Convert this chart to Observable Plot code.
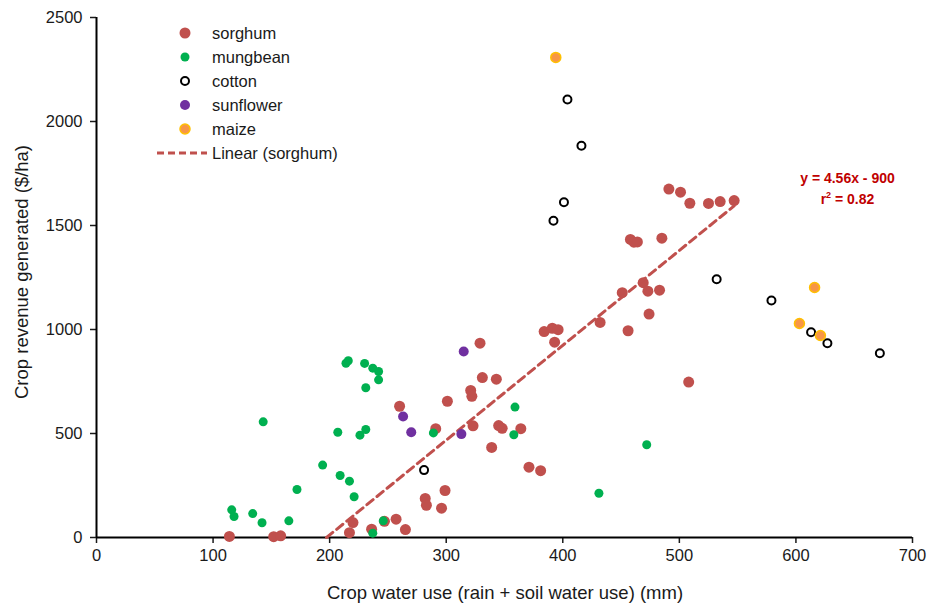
<!DOCTYPE html>
<html>
<head>
<meta charset="utf-8">
<script src="https://cdn.jsdelivr.net/npm/d3@7"></script>
<script src="https://cdn.jsdelivr.net/npm/@observablehq/plot@0.6"></script>
<style>
  html, body { margin: 0; padding: 0; background: #fff; }
  #wrap { position: relative; width: 930px; height: 608px; font-family: "Liberation Sans", Arial, sans-serif; color: #1a1a1a; }
  #legend { position: absolute; left: 150px; top: 21px; font-size: 16.5px; }
  #legend .row { position: relative; height: 24px; line-height: 24px; }
  #legend .row svg { position: absolute; left: 0; top: 0; }
  #legend .row span { position: absolute; left: 62px; top: 0; white-space: nowrap; }
  #eq { position: absolute; left: 780px; top: 168px; width: 135px; text-align: center; color: #C00000; font-weight: bold; font-size: 14px; line-height: 21px; }
  .atitle { position: absolute; font-size: 18.5px; white-space: nowrap; line-height: 20px; }
  #xt { left: 0; width: 1010px; top: 583px; text-align: center; }
  #yt { left: 22px; top: 272px; transform: translate(-50%, -50%) rotate(-90deg); }
</style>
</head>
<body>
<div id="wrap"></div>
<script>
// ---- data ----
const sorghum = [
  [114,5],[152,4],[158,8],[217,23],[220,72],[236,40],[247,78],[257,88],[265,38],
  [260,631],[282,188],[283,155],[291,523],[296,141],[299,226],[301,655],[321,707],
  [322,679],[323,537],[329,934],[331,769],[339,433],[343,761],[345,538],[348,525],
  [364,523],[371,338],[381,321],[384,990],[391,1006],[396,999],[393,939],[432,1034],
  [451,1177],[456,994],[458,1433],[461,1420],[464,1421],[469,1225],[473,1184],[474,1074],
  [483,1189],[485,1439],[491,1675],[501,1660],[508,747],[509,1607],[525,1606],
  [535,1615],[547,1620]
];
const mungbean = [
  [116,133],[118,101],[134,115],[142,71],[143,556],[165,80],[172,231],[194,348],
  [207,506],[209,298],[214,838],[216,850],[217,271],[221,196],[226,492],[230,837],
  [231,519],[231,720],[237,814],[237,21],[242,798],[242,758],[246,80],[289,503],
  [358,494],[359,627],[431,213],[472,446]
];
const cotton = [
  [281,324],[392,1523],[401,1612],[404,2106],[416,1883],[532,1242],[579,1139],
  [613,987],[627,934],[672,886]
];
const sunflower = [[263,582],[270,506],[313,497],[315,894]];
const maize = [[394,2308],[603,1029],[616,1202],[621,971]];

const cropNames = ["sorghum","mungbean","cotton","sunflower","maize"];
const trendSlope = 4.56;
const trendIntercept = -900;
const trendR2 = 0.82;
const xTicks = [0,100,200,300,400,500,600,700];
const yTicks = [0,500,1000,1500,2000,2500];
const xTitle = "Crop water use (rain + soil water use) (mm)";
const yTitle = "Crop revenue generated ($/ha)";

// ---- styles ----
const red = "#C0504D", green = "#00B050", purple = "#7030A0", orange = "#F79646", gold = "#FFC000";

const rows = a => a.map(([x, y]) => ({x, y}));
const sx = d3.extent(sorghum, d => d[0]);
const xStart = Math.max(sx[0], -trendIntercept / trendSlope);
const trend = [xStart, sx[1]].map(x => ({x, y: trendSlope * x + trendIntercept}));

const chart = Plot.plot({
  width: 930,
  height: 608,
  marginLeft: 96,
  marginRight: 18,
  marginTop: 17,
  marginBottom: 71,
  style: {fontFamily: '"Liberation Sans", Arial, sans-serif', fontSize: "16px", color: "#1a1a1a", background: "transparent"},
  x: {domain: [0, 700]},
  y: {domain: [0, 2500]},
  marks: [
    Plot.axisX({ticks: xTicks, tickSize: 6, tickPadding: 6, tickFormat: d => String(d), label: null, fontSize: 16.5, strokeWidth: 1.5}),
    Plot.axisY({ticks: yTicks, tickSize: 6, tickPadding: 8, tickFormat: d => String(d), label: null, fontSize: 16.5, strokeWidth: 1.5}),
    Plot.ruleX([0], {stroke: "#000", strokeWidth: 2}),
    Plot.ruleY([0], {stroke: "#000", strokeWidth: 2}),
    Plot.dot(rows(sorghum), {x: "x", y: "y", r: 5.5, fill: red}),
    Plot.line(trend, {x: "x", y: "y", stroke: red, strokeWidth: 3, strokeDasharray: "8,5"}),
    Plot.dot(rows(mungbean), {x: "x", y: "y", r: 4.5, fill: green}),
    Plot.dot(rows(cotton), {x: "x", y: "y", r: 4, fill: "#fff", stroke: "#000", strokeWidth: 2}),
    Plot.dot(rows(sunflower), {x: "x", y: "y", r: 5, fill: purple}),
    Plot.dot(rows(maize), {x: "x", y: "y", r: 5, fill: orange, stroke: gold, strokeWidth: 1.5})
  ]
});

const wrap = document.getElementById("wrap");
wrap.appendChild(chart);

// axis titles
const xt = document.createElement("div");
xt.id = "xt"; xt.className = "atitle"; xt.textContent = xTitle;
wrap.appendChild(xt);
const yt = document.createElement("div");
yt.id = "yt"; yt.className = "atitle"; yt.textContent = yTitle;
wrap.appendChild(yt);

// legend
const legendSpec = [
  {name: cropNames[0], fill: red, stroke: "none", r: 5.5},
  {name: cropNames[1], fill: green, stroke: "none", r: 4.5},
  {name: cropNames[2], fill: "#fff", stroke: "#000", r: 4, sw: 2},
  {name: cropNames[3], fill: purple, stroke: "none", r: 5},
  {name: cropNames[4], fill: orange, stroke: gold, r: 5, sw: 1.5}
];
const legend = document.createElement("div");
legend.id = "legend";
legendSpec.forEach(s => {
  const row = document.createElement("div");
  row.className = "row";
  row.innerHTML = `<svg width="60" height="24"><circle cx="35" cy="12" r="${s.r}" fill="${s.fill}" stroke="${s.stroke}" stroke-width="${s.sw || 0}"/></svg><span>${s.name}</span>`;
  legend.appendChild(row);
});
const lrow = document.createElement("div");
lrow.className = "row";
lrow.innerHTML = `<svg width="60" height="24"><line x1="7" x2="57" y1="12" y2="12" stroke="${red}" stroke-width="3" stroke-dasharray="7,4"/></svg><span>Linear (${cropNames[0]})</span>`;
legend.appendChild(lrow);
wrap.appendChild(legend);

// equation
const eq = document.createElement("div");
eq.id = "eq";
eq.innerHTML = `y = ${trendSlope}x - ${-trendIntercept}<br>r<sup style="font-size:9px;vertical-align:6px;line-height:0">2</sup> = ${trendR2}`;
wrap.appendChild(eq);
</script>
</body>
</html>
